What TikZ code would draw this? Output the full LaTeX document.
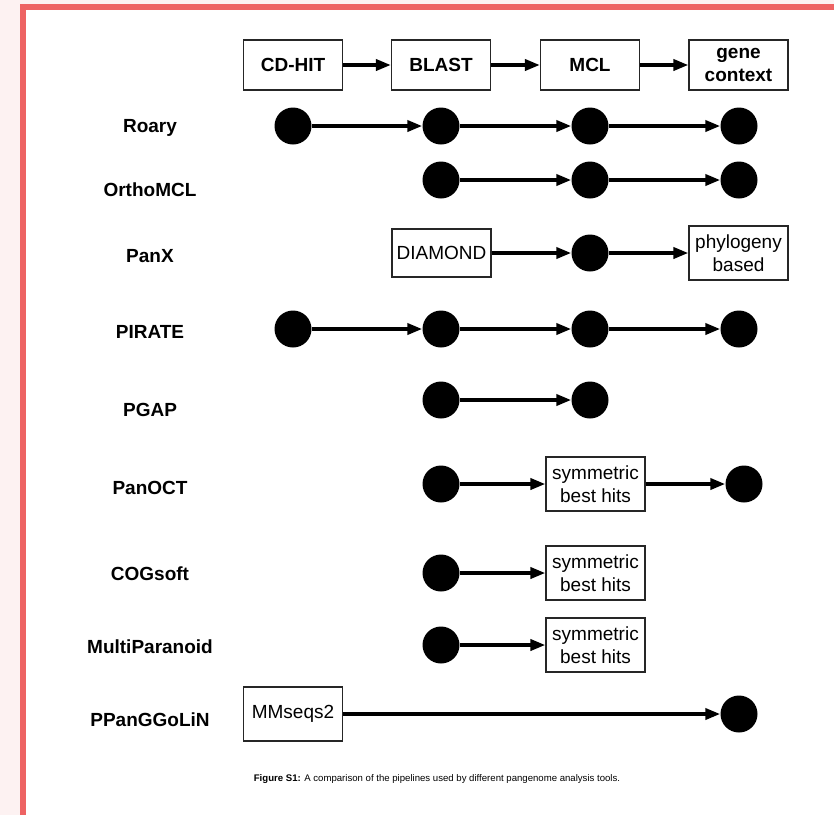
\documentclass[tikz,border=0pt]{standalone}
\usepackage{fontspec}
\setmainfont{Liberation Sans}
\usetikzlibrary{arrows.meta}
\definecolor{frame}{HTML}{EE6363}
\definecolor{pinkbg}{HTML}{FDF2F2}
\begin{document}
\begin{tikzpicture}[x=1pt,y=-1pt,
  dot/.style={circle,fill=black,draw=none,minimum size=37pt,inner sep=0pt},
  hdr/.style={draw=black!85,line width=1.2pt,minimum width=99pt,minimum height=50pt,inner sep=0pt,font=\fontsize{19}{23.5}\selectfont\bfseries,align=center},
  tbox/.style={draw=black!85,line width=1.2pt,minimum width=99pt,minimum height=54pt,inner sep=0pt,font=\fontsize{19}{23}\selectfont,align=center},
  lbl/.style={font=\fontsize{19}{21}\selectfont\bfseries},
  arr/.style={line width=3.6pt,-{Triangle[length=15pt,width=11pt]}},
]
\useasboundingbox (0,0) rectangle (834,815);
\fill[pinkbg] (0,0) rectangle (834,815);
\fill[white] (23,7) rectangle (834,815);
\draw[frame,line width=6pt] (23,815) -- (23,7) -- (834,7);
% header
\node[hdr] (h1) at (293,65) {CD-HIT};
\node[hdr] (h2) at (441,65) {BLAST};
\node[hdr] (h3) at (590,65) {MCL};
\node[hdr] (h4) at (738.5,65) {gene\\context};
\draw[arr] (h1) -- (h2);
\draw[arr] (h2) -- (h3);
\draw[arr] (h3) -- (h4);
% labels
\node[lbl] (l1) at (150,128) {Roary};
\node[lbl] (l2) at (150,190) {OrthoMCL};
\node[lbl] (l3) at (150,256) {PanX};
\node[lbl] (l4) at (150,332) {PIRATE};
\node[lbl] (l5) at (150,410) {PGAP};
\node[lbl] (l6) at (150,488) {PanOCT};
\node[lbl] (l7) at (150,574) {COGsoft};
\node[lbl] (l8) at (150,647) {MultiParanoid};
\node[lbl] (l9) at (150,720) {PPanGGoLiN};
% Roary
\node[dot] (r1a) at (293,126) {};
\node[dot] (r1b) at (441,126) {};
\node[dot] (r1c) at (590,126) {};
\node[dot] (r1d) at (739,126) {};
\draw[arr] (r1a) -- (r1b);
\draw[arr] (r1b) -- (r1c);
\draw[arr] (r1c) -- (r1d);
% OrthoMCL
\node[dot] (r2b) at (441,180) {};
\node[dot] (r2c) at (590,180) {};
\node[dot] (r2d) at (739,180) {};
\draw[arr] (r2b) -- (r2c);
\draw[arr] (r2c) -- (r2d);
% PanX
\node[tbox,minimum height=48pt] (r3b) at (441.5,253) {DIAMOND};
\node[dot] (r3c) at (590,253) {};
\node[tbox] (r3d) at (738.5,253) {phylogeny\\based};
\draw[arr] (r3b) -- (r3c);
\draw[arr] (r3c) -- (r3d);
% PIRATE
\node[dot] (r4a) at (293,329) {};
\node[dot] (r4b) at (441,329) {};
\node[dot] (r4c) at (590,329) {};
\node[dot] (r4d) at (739,329) {};
\draw[arr] (r4a) -- (r4b);
\draw[arr] (r4b) -- (r4c);
\draw[arr] (r4c) -- (r4d);
% PGAP
\node[dot] (r5b) at (441,400) {};
\node[dot] (r5c) at (590,400) {};
\draw[arr] (r5b) -- (r5c);
% PanOCT
\node[dot] (r6b) at (441,484) {};
\node[tbox] (r6c) at (595.5,484) {symmetric\\best hits};
\node[dot] (r6d) at (744,484) {};
\draw[arr] (r6b) -- (r6c);
\draw[arr] (r6c) -- (r6d);
% COGsoft
\node[dot] (r7b) at (441,573) {};
\node[tbox] (r7c) at (595.5,573) {symmetric\\best hits};
\draw[arr] (r7b) -- (r7c);
% MultiParanoid
\node[dot] (r8b) at (441,645) {};
\node[tbox] (r8c) at (595.5,645) {symmetric\\best hits};
\draw[arr] (r8b) -- (r8c);
% PPanGGoLiN
\node[tbox] (r9a) at (293,714) {MMseqs2};
\node[dot] (r9d) at (739,714) {};
\draw[arr] (r9a) -- (r9d);
% caption
\node[font=\fontsize{9.6}{11}\selectfont] (cap) at (437,779) {\textbf{Figure S1:} A comparison of the pipelines used by different pangenome analysis tools.};
\end{tikzpicture}
\end{document}
